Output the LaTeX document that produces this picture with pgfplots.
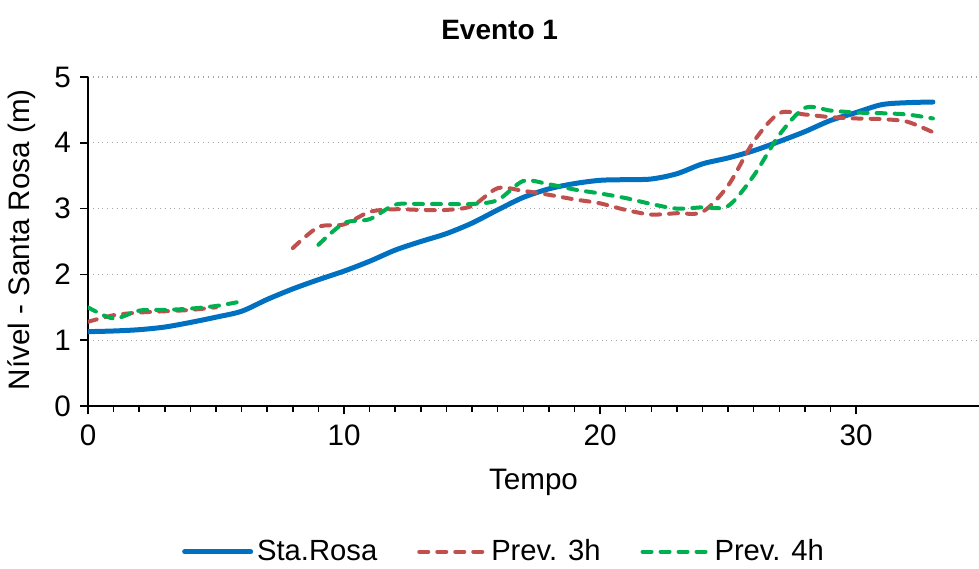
\documentclass[border=0pt]{standalone}
\usepackage{pgfplots}
\pgfplotsset{compat=1.18}
\usepackage{fontspec}
\setmainfont{Liberation Sans}

\definecolor{starosa}{HTML}{0070C0}
\definecolor{prev3}{HTML}{C0504D}
\definecolor{prev4}{HTML}{00B050}

\begin{document}
\begin{tikzpicture}
\begin{axis}[
    width=445.5pt, height=164.5pt,
    scale only axis,
    xmin=0, xmax=34.8,
    ymin=0, ymax=5,
    xtick={0,10,20,30},
    minor x tick num=9,
    ytick={0,1,2,3,4,5},
    axis lines*=left,
    axis line style={line width=0.75pt},
    tick align=outside,
    major tick length=4pt,
    minor tick length=3pt,
    every tick/.style={black, line width=0.75pt},
    ymajorgrids,
    grid style={dotted, gray!70, line width=0.6pt},
    /pgf/number format/assume math mode=true,
    tick label style={font=\fontsize{14.8}{17}\selectfont},
    xticklabel style={yshift=-2pt},
    yticklabel style={xshift=-1pt},
    title={\textbf{Evento 1}},
    title style={at={(0.462,1.107)}, anchor=center, font=\fontsize{14}{16}\selectfont},
    xlabel={Tempo},
    xlabel style={at={(0.5,-0.231)}, anchor=center, font=\fontsize{14.8}{17}\selectfont},
    ylabel={Nível - Santa Rosa (m)},
    ylabel style={at={(-0.074,0.505)}, anchor=center, font=\fontsize{14.8}{17}\selectfont},
    legend style={at={(0.468,-0.443)}, anchor=center, draw=none,
        font=\fontsize{14.6}{17}\selectfont, legend columns=-1,
        /tikz/every even column/.append style={column sep=18pt}},
    legend image code/.code={\draw[#1] (0pt,0pt) -- (33pt,0pt);},
]
\coordinate (bl) at (rel axis cs:0,0);
\coordinate (tr) at (rel axis cs:1,1);

% Sta.Rosa
\addplot[starosa, line width=2.5pt, smooth, line cap=round] coordinates {
(0,1.13) (1,1.14) (2,1.16) (3,1.20) (4,1.27) (5,1.35) (6,1.44) (7,1.62)
(8,1.78) (9,1.92) (10,2.05) (11,2.20) (12,2.37) (13,2.50) (14,2.62)
(15,2.78) (16,2.98) (17,3.17) (18,3.30) (19,3.38) (20,3.43) (21,3.44)
(22,3.45) (23,3.53) (24,3.68) (25,3.77) (26,3.88) (27,4.02) (28,4.17)
(29,4.34) (30,4.46) (31,4.58) (32,4.61) (33,4.62)
};
\addlegendentry{Sta.Rosa}

% Prev. 3h
\addplot[prev3, line width=2pt, smooth, line cap=round, dash pattern=on 4.5pt off 4.5pt] coordinates {
(0,1.28) (1,1.38) (2,1.42) (3,1.44) (4,1.46) (5,1.50)
};
\addlegendentry{Prev. 3h}
\addplot[prev3, line width=2pt, smooth, line cap=round, dash pattern=on 4.5pt off 4.5pt, forget plot] coordinates {
(8,2.40) (9,2.72) (10,2.76) (11,2.95) (12,2.99) (13,2.98) (14,2.98)
(15,3.04) (16,3.31) (17,3.27) (18,3.21) (19,3.14) (20,3.08) (21,2.98)
(22,2.91) (23,2.93) (24,2.95) (25,3.35) (26,4.02) (27,4.45) (28,4.43)
(29,4.39) (30,4.37) (31,4.36) (32,4.32) (33,4.16)
};

% Prev. 4h
\addplot[prev4, line width=2pt, smooth, line cap=round, dash pattern=on 4.5pt off 4.5pt] coordinates {
(0,1.50) (1,1.33) (2,1.45) (3,1.46) (4,1.48) (5,1.52) (6,1.59)
};
\addlegendentry{Prev. 4h}
\addplot[prev4, line width=2pt, smooth, line cap=round, dash pattern=on 4.5pt off 4.5pt, forget plot] coordinates {
(9,2.45) (10,2.78) (11,2.84) (12,3.06) (13,3.07) (14,3.07) (15,3.07)
(16,3.13) (17,3.42) (18,3.37) (19,3.29) (20,3.23) (21,3.16) (22,3.07)
(23,3.00) (24,3.02) (25,3.04) (26,3.50) (27,4.12) (28,4.53) (29,4.49)
(30,4.46) (31,4.45) (32,4.43) (33,4.37)
};
\end{axis}
\pgfresetboundingbox
\path[use as bounding box] ([xshift=-44pt,yshift=-81pt]bl) rectangle ([yshift=38.5pt]tr);
\end{tikzpicture}
\end{document}
